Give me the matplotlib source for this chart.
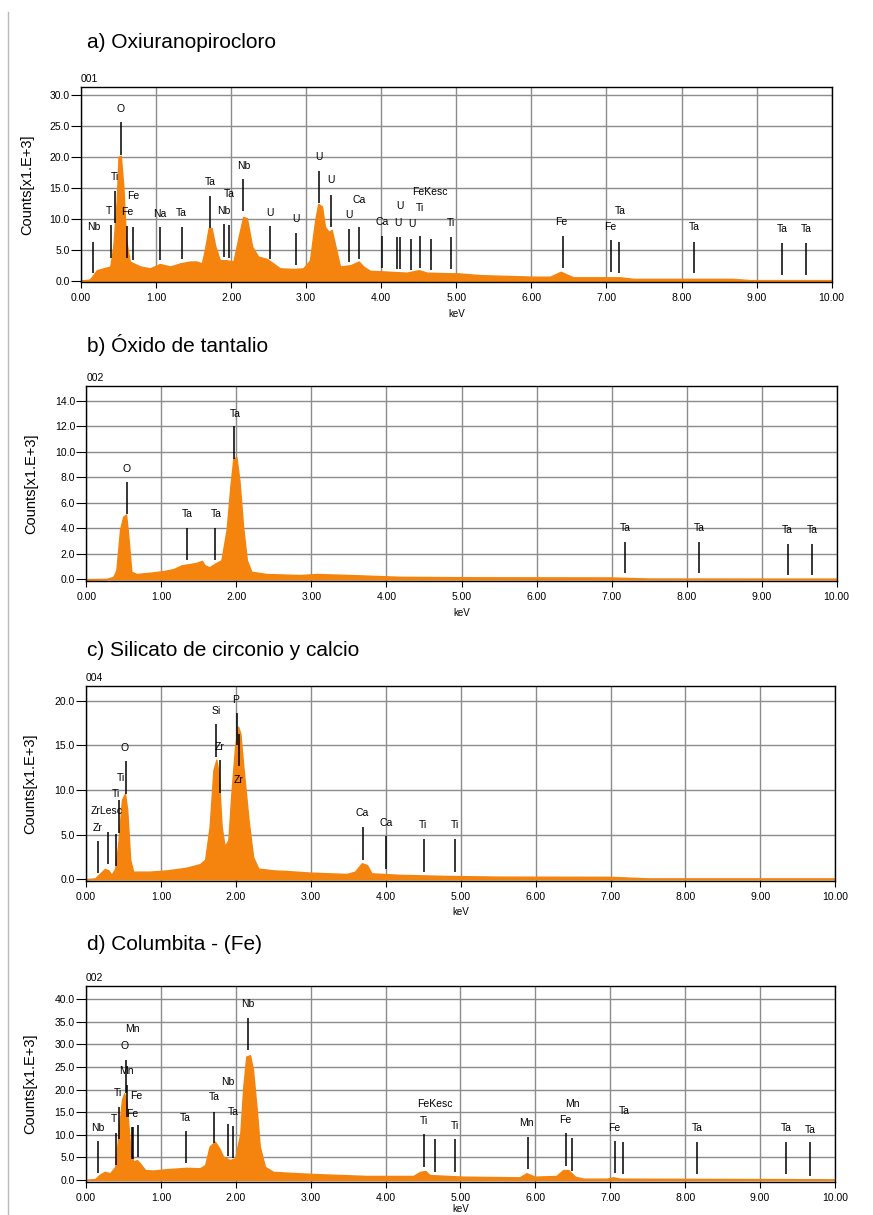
import matplotlib
matplotlib.use('Agg')
import matplotlib.pyplot as plt
from matplotlib.lines import Line2D
import numpy as np

plt.rcParams['font.family'] = ['Liberation Sans', 'DejaVu Sans']

W, H = 873, 1215
ORANGE = '#f5840f'

# ---- a) Oxiuranopirocloro ----
a_kev = [0.0, 0.12, 0.21, 0.30, 0.39, 0.43, 0.476, 0.50, 0.53, 0.564, 0.60, 0.65, 0.70, 0.79,
         0.92, 1.05, 1.19, 1.32, 1.45, 1.54, 1.61, 1.65, 1.70, 1.74, 1.79, 1.85, 1.94, 2.03,
         2.10, 2.16, 2.21, 2.28, 2.36, 2.48, 2.56, 2.65, 2.83, 2.96, 3.05, 3.12, 3.16, 3.21,
         3.25, 3.30, 3.34, 3.39, 3.45, 3.59, 3.70, 3.76, 3.85, 4.03, 4.34, 4.50, 4.61, 4.92,
         5.01, 5.32, 6.03, 6.25, 6.39, 6.47, 6.56, 7.18, 7.36, 8.69, 8.91, 10.0]
a_counts = [0.0, 0.2, 1.7, 2.0, 2.3, 5.5, 13.0, 20.0, 20.2, 15.2, 6.6, 3.1, 2.8, 2.3,
            2.0, 2.7, 2.3, 2.8, 3.1, 3.1, 2.8, 5.0, 8.5, 8.5, 5.5, 3.3, 3.3, 3.1,
            7.1, 10.3, 10.1, 5.5, 3.9, 3.5, 2.8, 2.0, 1.9, 2.0, 3.3, 9.8, 12.4, 12.0,
            8.7, 7.9, 8.2, 5.5, 2.3, 2.5, 3.1, 2.3, 1.6, 1.5, 1.3, 1.7, 1.3, 1.2,
            1.2, 0.9, 0.65, 0.65, 1.45, 1.0, 0.55, 0.55, 0.3, 0.3, 0.1, 0.1]
a_mk_kev = [0.165, 0.40, 0.453, 0.533, 0.613, 0.698, 1.053, 1.342, 1.716, 1.902, 1.978, 2.164,
            2.52, 2.862, 3.164, 3.333, 3.569, 3.702, 4.009, 4.209, 4.244, 4.40, 4.511, 4.667,
            4.929, 6.418, 7.062, 7.173, 8.164, 9.342, 9.662]
a_mk_lo = [1.2, 3.6, 9.3, 20.3, 3.6, 3.4, 3.3, 3.5, 8.5, 3.9, 3.7, 11.3,
           3.5, 2.5, 12.5, 8.7, 3.1, 3.5, 2.0, 1.9, 1.9, 1.7, 2.0, 1.7,
           1.9, 2.0, 1.35, 1.2, 1.2, 0.9, 0.9]
a_mk_hi = [6.3, 9.0, 14.5, 25.6, 8.9, 8.7, 8.6, 8.7, 13.7, 9.2, 9.0, 16.4,
           8.8, 7.75, 17.7, 13.9, 8.3, 8.7, 7.2, 7.0, 7.0, 6.8, 7.2, 6.8,
           7.0, 7.2, 6.5, 6.3, 6.3, 6.1, 6.1]
a_labels = ['Nb', 'T', 'Ti', 'O', 'Fe', 'Fe', 'Na', 'Ta', 'Ta', 'Nb', 'Ta', 'Nb',
            'U', 'U', 'U', 'U', 'U', 'Ca', 'Ca', 'U', 'U', 'U', 'Ti', 'FeKesc',
            'Ti', 'Fe', 'Fe', 'Ta', 'Ta', 'Ta', 'Ta']
a_lab_kev = [0.164, 0.378, 0.453, 0.533, 0.613, 0.698, 1.053, 1.342, 1.716, 1.902, 1.978, 2.164,
             2.52, 2.862, 3.164, 3.333, 3.569, 3.702, 4.009, 4.218, 4.244, 4.409, 4.511, 4.653,
             4.929, 6.404, 7.053, 7.187, 8.164, 9.346, 9.662]
a_lab_y = [8.6, 11.2, 16.8, 27.8, 11.1, 13.7, 10.8, 10.9, 15.9, 11.3, 14.0, 18.6,
           11.0, 10.0, 20.0, 16.3, 10.6, 13.0, 9.5, 9.4, 12.1, 9.2, 11.8, 14.4,
           9.4, 9.5, 8.7, 11.3, 8.6, 8.3, 8.3]

# ---- b) Óxido de tantalio ----
b_kev = [0.0, 0.27, 0.36, 0.40, 0.45, 0.49, 0.53, 0.56, 0.60, 0.67, 0.85, 1.03, 1.16, 1.27,
         1.38, 1.47, 1.54, 1.58, 1.64, 1.72, 1.80, 1.87, 1.92, 1.96, 2.00, 2.04, 2.09, 2.14,
         2.20, 2.40, 2.85, 3.07, 3.52, 4.18, 5.25, 7.0, 7.5, 10.0]
b_counts = [0.0, 0.03, 0.2, 0.7, 3.9, 4.9, 5.1, 3.4, 0.6, 0.42, 0.52, 0.65, 0.8, 1.1,
            1.2, 1.3, 1.45, 1.1, 0.95, 1.25, 1.5, 3.9, 7.3, 9.5, 9.6, 7.8, 4.1, 1.5,
            0.6, 0.42, 0.34, 0.42, 0.34, 0.2, 0.16, 0.15, 0.06, 0.05]
b_mk_kev = [0.538, 1.342, 1.72, 1.973, 7.183, 8.165, 9.347, 9.667]
b_mk_lo = [5.13, 1.52, 1.52, 9.42, 0.47, 0.47, 0.34, 0.34]
b_mk_hi = [7.67, 4.06, 4.06, 12.0, 2.9, 2.9, 2.8, 2.8]
b_labels = ['O', 'Ta', 'Ta', 'Ta', 'Ta', 'Ta', 'Ta', 'Ta']
b_lab_kev = [0.53, 1.342, 1.73, 1.98, 7.183, 8.165, 9.347, 9.675]
b_lab_y = [8.7, 5.1, 5.1, 13.0, 4.06, 4.06, 3.9, 3.9]

# ---- c) Silicato de circonio y calcio ----
c_kev = [0.0, 0.12, 0.19, 0.25, 0.30, 0.34, 0.39, 0.43, 0.48, 0.52, 0.55, 0.59, 0.63, 0.85,
         1.08, 1.34, 1.52, 1.59, 1.65, 1.70, 1.74, 1.77, 1.81, 1.85, 1.90, 1.94, 1.99, 2.03,
         2.06, 2.10, 2.17, 2.23, 2.30, 2.50, 2.68, 2.99, 3.48, 3.59, 3.68, 3.75, 3.81, 4.19,
         4.86, 5.52, 7.0, 7.5, 10.0]
c_counts = [0.0, 0.1, 0.67, 1.16, 1.0, 0.5, 1.2, 4.0, 8.9, 9.6, 7.8, 2.2, 0.86, 0.86,
            1.0, 1.3, 1.7, 2.2, 5.9, 12.2, 13.4, 11.9, 5.9, 3.7, 4.4, 9.6, 14.9, 17.1,
            16.3, 12.6, 6.6, 2.5, 1.2, 1.0, 0.93, 0.75, 0.6, 0.86, 1.8, 1.6, 0.67, 0.5,
            0.37, 0.3, 0.28, 0.1, 0.1]
c_mk_kev = [0.156, 0.289, 0.396, 0.445, 0.53, 1.735, 1.788, 2.01, 2.04, 3.70, 4.0, 4.51, 4.925]
c_mk_lo = [0.67, 1.7, 1.5, 5.2, 9.6, 13.7, 9.7, 15.0, 12.7, 2.2, 1.1, 0.86, 0.86]
c_mk_hi = [4.3, 5.3, 5.1, 8.9, 13.2, 17.4, 13.4, 18.6, 16.3, 5.9, 4.8, 4.5, 4.5]
c_labels = ['Zr', 'ZrLesc', 'Ti', 'Ti', 'O', 'Si', 'Zr', 'P', 'Zr', 'Ca', 'Ca', 'Ti', 'Ti']
c_lab_kev = [0.156, 0.276, 0.40, 0.463, 0.51, 1.735, 1.788, 2.0, 2.04, 3.69, 4.0, 4.50, 4.925]
c_lab_y = [5.8, 7.6, 9.5, 11.3, 14.7, 18.8, 14.8, 20.1, 11.1, 7.4, 6.3, 6.1, 6.1]

# ---- d) Columbita - (Fe) ----
d_kev = [0.0, 0.12, 0.19, 0.25, 0.32, 0.39, 0.43, 0.48, 0.51, 0.54, 0.59, 0.63, 0.68, 0.72,
         0.79, 0.90, 1.08, 1.34, 1.52, 1.59, 1.65, 1.72, 1.78, 1.83, 1.92, 1.99, 2.06, 2.10,
         2.14, 2.19, 2.23, 2.28, 2.32, 2.39, 2.50, 2.72, 3.08, 3.75, 4.37, 4.46, 4.53, 4.59,
         5.04, 5.79, 5.88, 5.99, 6.28, 6.37, 6.44, 6.53, 6.64, 6.95, 7.04, 7.13, 9.40, 10.0]
d_counts = [0.0, 0.2, 1.25, 1.8, 1.5, 2.9, 9.6, 17.7, 19.2, 17.3, 7.4, 4.1, 4.4, 3.7,
            2.2, 2.1, 2.4, 2.7, 2.6, 3.3, 7.4, 8.5, 7.0, 5.2, 4.4, 4.8, 10.3, 20.6,
            27.3, 27.6, 24.3, 15.5, 7.4, 2.9, 1.8, 1.6, 1.3, 0.9, 0.9, 1.8, 2.0, 1.1,
            0.74, 0.6, 1.5, 0.74, 0.9, 2.2, 2.2, 0.74, 0.3, 0.3, 0.6, 0.3, 0.2, 0.1]
d_mk_kev = [0.156, 0.396, 0.445, 0.53, 0.545, 0.609, 0.627, 0.69, 1.33, 1.708, 1.9, 1.966,
            2.157, 4.51, 4.658, 4.925, 5.897, 6.413, 6.493, 7.063, 7.174, 8.162, 9.346, 9.666]
d_mk_lo = [1.47, 3.3, 9.0, 19.3, 14.0, 4.6, 4.6, 5.0, 3.7, 8.1, 5.2, 4.8,
           28.7, 2.8, 1.8, 1.8, 2.4, 3.1, 2.1, 1.6, 1.3, 1.3, 1.3, 0.95]
d_mk_hi = [8.6, 10.5, 16.2, 26.5, 21.0, 11.8, 11.8, 12.2, 10.8, 15.1, 12.3, 12.0,
           35.9, 10.1, 9.0, 9.0, 9.4, 10.3, 9.2, 8.7, 8.5, 8.5, 8.5, 8.3]
d_labels = ['Nb', 'T', 'Ti', 'O', 'Mn', 'Mn', 'Fe', 'Fe', 'Ta', 'Ta', 'Nb', 'Ta',
            'Nb', 'FeKesc', 'Ti', 'Ti', 'Mn', 'Fe', 'Mn', 'Fe', 'Ta', 'Ta', 'Ta', 'Ta']
d_lab_kev = [0.156, 0.369, 0.431, 0.52, 0.543, 0.623, 0.676, 0.623, 1.321, 1.708, 1.89, 1.966,
             2.153, 4.657, 4.51, 4.925, 5.884, 6.404, 6.493, 7.054, 7.18, 8.162, 9.346, 9.666]
d_lab_y = [11.6, 13.6, 19.3, 29.6, 24.1, 33.3, 18.6, 14.7, 13.8, 18.4, 21.7, 15.1,
           38.9, 16.7, 13.0, 12.0, 12.5, 13.3, 16.9, 11.6, 15.2, 11.4, 11.4, 11.0]

titles = ['a) Oxiuranopirocloro', 'b) Óxido de tantalio',
          'c) Silicato de circonio y calcio', 'd) Columbita - (Fe)']
tags = ['001', '002', '004', '002']


def px_axes(fig, left, top, right, bottom):
    return fig.add_axes([left / W, 1 - bottom / H, (right - left) / W, (bottom - top) / H])


def draw_panel(fig, box, ylim, ystep, title, title_y, tag, ylab_x, kev_y,
               kev, counts, mk_kev, mk_lo, mk_hi, labels, lab_kev, lab_y):
    left, top, right, bottom = box
    ax = px_axes(fig, *box)
    ax.fill_between(kev, counts, 0, color=ORANGE, lw=1.0, edgecolor=ORANGE, zorder=2)
    ax.vlines(mk_kev, mk_lo, mk_hi, color='black', lw=1.1, zorder=3)
    for x, y, s in zip(lab_kev, lab_y, labels):
        ax.text(x, y, s, ha='center', va='center', fontsize=7.5, zorder=4)
    ax.set_xlim(0, 10)
    ax.set_ylim(*ylim)
    ax.set_xticks(np.arange(0, 10.01, 1))
    ax.set_yticks(np.arange(0, ylim[1], ystep))
    ax.xaxis.set_major_formatter('{x:.2f}')
    ax.yaxis.set_major_formatter('{x:.1f}')
    ax.grid(True, color='#8c8c8c', lw=1.0)
    ax.set_axisbelow(True)
    ax.tick_params(axis='y', length=7, width=0.8, pad=1, labelsize=7.5)
    ax.tick_params(axis='x', length=4, width=0.8, pad=4, labelsize=7.5)
    for s in ax.spines.values():
        s.set_linewidth(1.0)
        s.set_color('black')
    fig.text(left / W, 1 - (top - 8) / H, tag, fontsize=7.5, ha='left', va='center')
    fig.text(87 / W, 1 - title_y / H, title, fontsize=15, ha='left', va='center')
    fig.text(ylab_x / W, 1 - (top + bottom) / 2 / H, 'Counts[x1.E+3]', rotation=90,
             fontsize=10.5, ha='center', va='center')
    fig.text((left + right) / 2 / W, 1 - kev_y / H, 'keV', fontsize=7,
             ha='center', va='center')
    return ax


fig = plt.figure(figsize=(W / 100, H / 100), dpi=100)
fig.add_artist(Line2D([8 / W, 8 / W], [0, 1 - 12 / H], color='#bbbbbb', lw=1.0))

draw_panel(fig, (81, 87, 831.7, 282), (-0.21, 31.3), 5, titles[0], 43, tags[0], 27, 314,
           a_kev, a_counts, a_mk_kev, a_mk_lo, a_mk_hi, a_labels, a_lab_kev, a_lab_y)
draw_panel(fig, (86.3, 385.7, 836.7, 581), (-0.13, 15.2), 2, titles[1], 345, tags[1], 31, 613,
           b_kev, b_counts, b_mk_kev, b_mk_lo, b_mk_hi, b_labels, b_lab_kev, b_lab_y)
draw_panel(fig, (86, 685.7, 835.3, 881), (-0.19, 21.68), 5, titles[2], 650, tags[2], 30, 912,
           c_kev, c_counts, c_mk_kev, c_mk_lo, c_mk_hi, c_labels, c_lab_kev, c_lab_y)
draw_panel(fig, (86, 986, 835, 1182), (-0.44, 42.9), 5, titles[3], 944, tags[3], 30, 1209,
           d_kev, d_counts, d_mk_kev, d_mk_lo, d_mk_hi, d_labels, d_lab_kev, d_lab_y)

fig.savefig('out.png', dpi=100)
